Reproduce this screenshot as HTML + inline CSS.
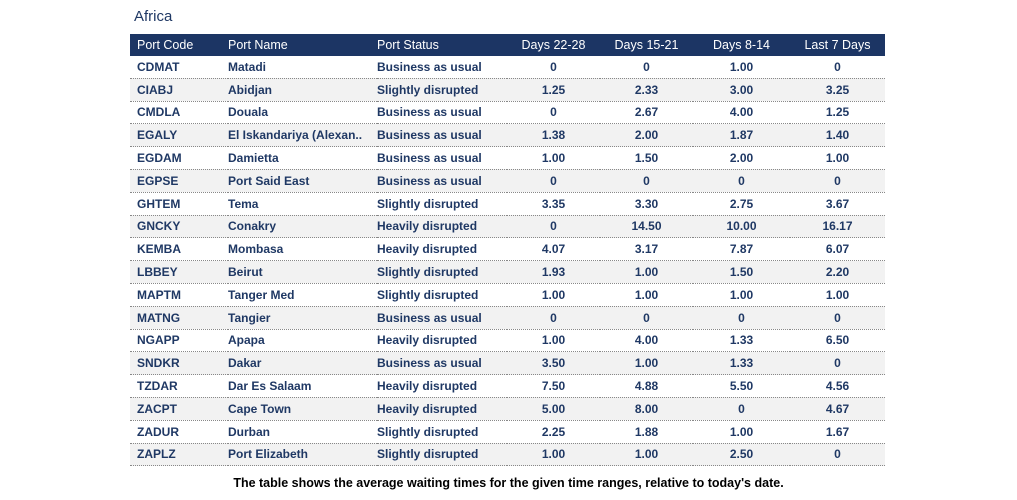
<!DOCTYPE html>
<html><head><style>
body{margin:0;width:1017px;height:500px;background:#fff;font-family:"Liberation Sans",Arial,sans-serif;position:relative;overflow:hidden}
.t{position:absolute;left:134px;top:8px;font-size:15px;color:#1f3864}
table{position:absolute;left:130px;top:34px;width:755px;border-collapse:collapse;font-size:12px;table-layout:fixed}
th{background:#1c3564;color:#fff;font-weight:normal;height:22px;padding:0;text-align:left;font-size:12.5px}
td{height:21.8px;padding:0;color:#1f3864;font-weight:bold;border-bottom:1px dotted #888}
tr:nth-child(even) td{background:#f2f2f2}
.c{text-align:center}
th:first-child,td:first-child{padding-left:7px}
.cap{position:absolute;left:0;width:1017px;text-align:center;top:476px;font-size:12.5px;font-weight:bold;color:#000}
</style></head><body>
<div class="t">Africa</div>
<table>
<colgroup><col style="width:98px"><col style="width:149px"><col style="width:130px"><col style="width:93px"><col style="width:93px"><col style="width:97px"><col style="width:95px"></colgroup>
<thead><tr><th>Port Code</th><th>Port Name</th><th>Port Status</th><th class="c">Days 22-28</th><th class="c">Days 15-21</th><th class="c">Days 8-14</th><th class="c">Last 7 Days</th></tr></thead>
<tbody>
<tr><td>CDMAT</td><td>Matadi</td><td>Business as usual</td><td class="c">0</td><td class="c">0</td><td class="c">1.00</td><td class="c">0</td></tr>
<tr><td>CIABJ</td><td>Abidjan</td><td>Slightly disrupted</td><td class="c">1.25</td><td class="c">2.33</td><td class="c">3.00</td><td class="c">3.25</td></tr>
<tr><td>CMDLA</td><td>Douala</td><td>Business as usual</td><td class="c">0</td><td class="c">2.67</td><td class="c">4.00</td><td class="c">1.25</td></tr>
<tr><td>EGALY</td><td>El Iskandariya (Alexan..</td><td>Business as usual</td><td class="c">1.38</td><td class="c">2.00</td><td class="c">1.87</td><td class="c">1.40</td></tr>
<tr><td>EGDAM</td><td>Damietta</td><td>Business as usual</td><td class="c">1.00</td><td class="c">1.50</td><td class="c">2.00</td><td class="c">1.00</td></tr>
<tr><td>EGPSE</td><td>Port Said East</td><td>Business as usual</td><td class="c">0</td><td class="c">0</td><td class="c">0</td><td class="c">0</td></tr>
<tr><td>GHTEM</td><td>Tema</td><td>Slightly disrupted</td><td class="c">3.35</td><td class="c">3.30</td><td class="c">2.75</td><td class="c">3.67</td></tr>
<tr><td>GNCKY</td><td>Conakry</td><td>Heavily disrupted</td><td class="c">0</td><td class="c">14.50</td><td class="c">10.00</td><td class="c">16.17</td></tr>
<tr><td>KEMBA</td><td>Mombasa</td><td>Heavily disrupted</td><td class="c">4.07</td><td class="c">3.17</td><td class="c">7.87</td><td class="c">6.07</td></tr>
<tr><td>LBBEY</td><td>Beirut</td><td>Slightly disrupted</td><td class="c">1.93</td><td class="c">1.00</td><td class="c">1.50</td><td class="c">2.20</td></tr>
<tr><td>MAPTM</td><td>Tanger Med</td><td>Slightly disrupted</td><td class="c">1.00</td><td class="c">1.00</td><td class="c">1.00</td><td class="c">1.00</td></tr>
<tr><td>MATNG</td><td>Tangier</td><td>Business as usual</td><td class="c">0</td><td class="c">0</td><td class="c">0</td><td class="c">0</td></tr>
<tr><td>NGAPP</td><td>Apapa</td><td>Heavily disrupted</td><td class="c">1.00</td><td class="c">4.00</td><td class="c">1.33</td><td class="c">6.50</td></tr>
<tr><td>SNDKR</td><td>Dakar</td><td>Business as usual</td><td class="c">3.50</td><td class="c">1.00</td><td class="c">1.33</td><td class="c">0</td></tr>
<tr><td>TZDAR</td><td>Dar Es Salaam</td><td>Heavily disrupted</td><td class="c">7.50</td><td class="c">4.88</td><td class="c">5.50</td><td class="c">4.56</td></tr>
<tr><td>ZACPT</td><td>Cape Town</td><td>Heavily disrupted</td><td class="c">5.00</td><td class="c">8.00</td><td class="c">0</td><td class="c">4.67</td></tr>
<tr><td>ZADUR</td><td>Durban</td><td>Slightly disrupted</td><td class="c">2.25</td><td class="c">1.88</td><td class="c">1.00</td><td class="c">1.67</td></tr>
<tr><td>ZAPLZ</td><td>Port Elizabeth</td><td>Slightly disrupted</td><td class="c">1.00</td><td class="c">1.00</td><td class="c">2.50</td><td class="c">0</td></tr>
</tbody></table>
<div class="cap">The table shows the average waiting times for the given time ranges, relative to today's date.</div>
</body></html>
